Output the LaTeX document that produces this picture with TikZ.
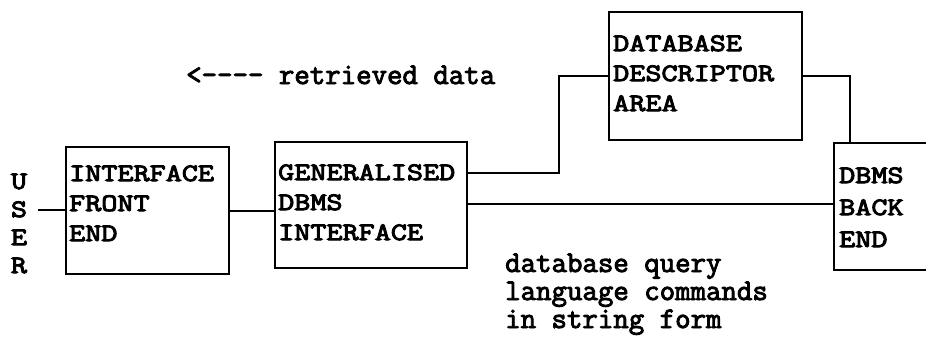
\documentclass[tikz,border=0pt]{standalone}
\usepackage{fontspec}
\newfontfamily\capsfont{Latin Modern Mono}[FakeBold=4,FakeStretch=1.25]
\newfontfamily\lowerfont{Latin Modern Mono}[FakeBold=3]
\begin{document}
\begin{tikzpicture}[x=1pt,y=-1pt,
  blk/.style={draw,line width=2.2pt,anchor=north west,inner sep=0pt},
  blktext/.style={anchor=base west,align=left,inner sep=0pt,
    font=\capsfont\fontsize{25}{30}\selectfont},
  lbl/.style={anchor=base west,align=left,inner sep=0pt,
    font=\lowerfont\fontsize{30}{28}\selectfont},
  wire/.style={line width=2.2pt}]
\clip (0,0) rectangle (926,341);
\fill[white] (0,0) rectangle (926,341);

% blocks
\node[blk,minimum width=163pt,minimum height=127pt] (fe) at (65,146) {};
\node[blk,minimum width=192pt,minimum height=126pt] (gi) at (274,141) {};
\node[blk,minimum width=193pt,minimum height=128pt] (dd) at (608,11) {};
\node[blk,minimum width=150pt,minimum height=127pt] (be) at (833,142) {};

% block captions (base anchor sits on the last line)
\node[blktext] (fet) at ([shift={(4,95)}]fe.north west) {INTERFACE\\FRONT\\END};
\node[blktext] (git) at ([shift={(4,99)}]gi.north west) {GENERALISED\\DBMS\\INTERFACE};
\node[blktext] (ddt) at ([shift={(5,100)}]dd.north west) {DATABASE\\DESCRIPTOR\\AREA};
\node[blktext,font=\capsfont\fontsize{25}{32}\selectfont] (bet) at ([shift={(6,105)}]be.north west) {DBMS\\BACK\\END};

% user column
\node[blktext,anchor=base] (u1) at (19,189) {U};
\node[blktext,anchor=base] (u2) at (19,217) {S};
\node[blktext,anchor=base] (u3) at (19,245) {E};
\node[blktext,anchor=base] (u4) at (19,273) {R};

% labels
\node[lbl] (rd) at (186,84) {<{-}{-}{-}{-} retrieved data};
\node[lbl] (qc) at (505,328) {database query\\language commands\\in string form};

% connector bends
\coordinate (usr) at (38,210);
\coordinate (j1) at (559,173);
\coordinate (j2) at (850,0);
\coordinate (j3) at (0,204);

\draw[wire] (usr) -- (usr -| fe.west);
\draw[wire] (fe.east) -- (fe.east -| gi.west);
\draw[wire] (j1 -| gi.east) -- (j1) |- (dd.west);
\draw[wire] (dd.east) -| (j2 |- be.north);
\draw[wire] (j3 -| gi.east) -- (j3 -| be.west);
\end{tikzpicture}
\end{document}
